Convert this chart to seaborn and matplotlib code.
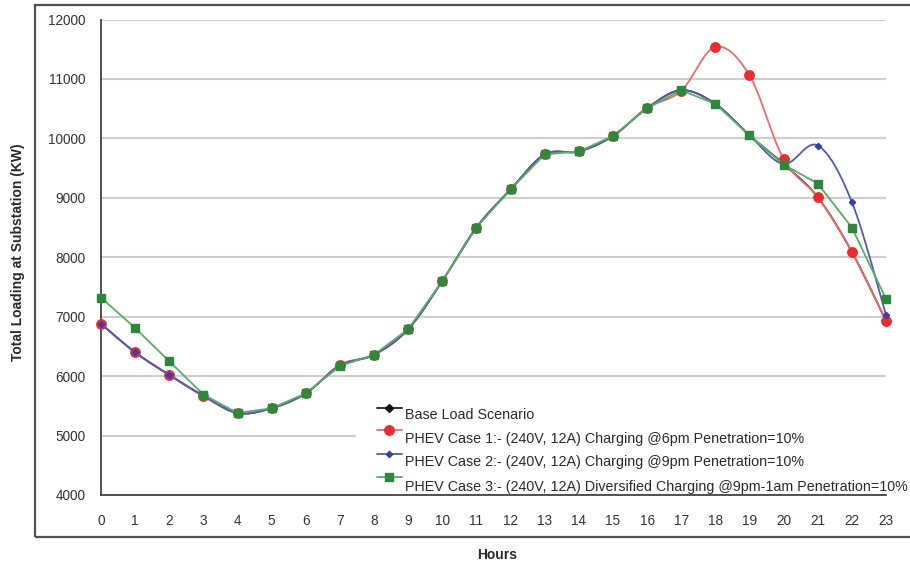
import numpy as np
import pandas as pd
import seaborn as sns
import matplotlib.pyplot as plt
from matplotlib.lines import Line2D
from matplotlib.patches import Rectangle

# Hourly substation loading (kW)
hours = list(range(24))
base_load = [6880, 6400, 6020, 5670, 5380, 5460, 5710, 6180, 6360, 6790, 7600, 8500,
             9140, 9730, 9780, 10040, 10510, 10810, 10580, 10050, 9570, 9010, 8090, 6930]
case1_6pm = [6880, 6400, 6020, 5660, 5380, 5460, 5710, 6190, 6360, 6790, 7600, 8500,
             9140, 9730, 9780, 10040, 10510, 10800, 11540, 11060, 9650, 9010, 8090, 6930]
case2_9pm = [6880, 6400, 6020, 5670, 5380, 5460, 5710, 6180, 6360, 6790, 7600, 8500,
             9140, 9730, 9780, 10040, 10510, 10810, 10580, 10050, 9570, 9880, 8930, 7030]
case3_div = [7320, 6810, 6250, 5690, 5380, 5460, 5710, 6170, 6360, 6790, 7600, 8500,
             9140, 9730, 9780, 10040, 10510, 10810, 10580, 10050, 9560, 9240, 8500, 7300]

labels = ["Base Load Scenario",
          "PHEV Case 1:- (240V, 12A) Charging @6pm Penetration=10%",
          "PHEV Case 2:- (240V, 12A) Charging @9pm Penetration=10%",
          "PHEV Case 3:- (240V, 12A) Diversified Charging @9pm-1am Penetration=10%"]
y_ticks = [4000, 5000, 6000, 7000, 8000, 9000, 10000, 11000, 12000]


def smooth(x, y, n=20):
    """Bezier smoothing through every point (spreadsheet-style smoothed line)."""
    x = np.asarray(x, float)
    y = np.asarray(y, float)
    px = np.concatenate([[x[0]], x, [x[-1]]])
    py = np.concatenate([[y[0]], y, [y[-1]]])
    xs, ys = [], []
    t = np.linspace(0, 1, n, endpoint=False)
    for i in range(len(x) - 1):
        p0 = np.array([x[i], y[i]])
        p3 = np.array([x[i + 1], y[i + 1]])
        p1 = p0 + (np.array([px[i + 2], py[i + 2]]) - np.array([px[i], py[i]])) / 6
        p2 = p3 - (np.array([px[i + 3], py[i + 3]]) - np.array([px[i + 1], py[i + 1]])) / 6
        b = ((1 - t) ** 3)[:, None] * p0 + (3 * (1 - t) ** 2 * t)[:, None] * p1 \
            + (3 * (1 - t) * t ** 2)[:, None] * p2 + (t ** 3)[:, None] * p3
        xs.append(b[:, 0])
        ys.append(b[:, 1])
    xs.append([x[-1]])
    ys.append([y[-1]])
    return np.concatenate(xs), np.concatenate(ys)


sns.set_style("white")
plt.rcParams["font.family"] = ["Liberation Sans", "DejaVu Sans"]

fig = plt.figure(figsize=(9.1, 5.63), dpi=100)
W, H = 910, 563
ax = fig.add_axes([101 / W, 1 - 495 / H, (886 - 101) / W, (495 - 19.5) / H])

# outer frame (its right side runs past the canvas edge)
fig.patches.append(Rectangle((35 / W, 1 - 537 / H), (930 - 35) / W, (537 - 5) / H,
                             transform=fig.transFigure, fill=False,
                             edgecolor="#505050", linewidth=1.6, zorder=0))

styles = [
    dict(data=base_load, color="#111111", lcolor="#222222", marker="D", ms=4.5,
         smooth=True, z=2),
    dict(data=case1_6pm, color="#ee2a2a", lcolor="#f06a6a", marker="o", ms=6.8,
         smooth=True, z=3),
    dict(data=case2_9pm, color="#3a3ea8", lcolor="#5558b8", marker="D", ms=3.2,
         smooth=True, z=4),
    dict(data=case3_div, color="#2a8a3a", lcolor="#55b060", marker="s", ms=5.8,
         smooth=False, z=5),
]

for s in styles:
    if s["smooth"]:
        sx, sy = smooth(hours, s["data"])
    else:
        sx, sy = np.asarray(hours, float), np.asarray(s["data"], float)
    sns.lineplot(x=sx, y=sy, ax=ax, color=s["lcolor"], linewidth=1.3,
                 estimator=None, sort=False, zorder=s["z"])
    ax.plot(hours, s["data"], linestyle="none", marker=s["marker"],
            markersize=s["ms"], color=s["color"], markeredgecolor=s["color"],
            zorder=s["z"] + 0.5, clip_on=False)

ax.set_xlim(0, 23)
ax.set_ylim(4000, 12000)
ax.set_xticks(hours)
ax.set_yticks(y_ticks)
ax.yaxis.grid(True, color="#cfcfcf", linewidth=1.5)
ax.set_axisbelow(True)
for side in ["top", "right"]:
    ax.spines[side].set_visible(False)
for side in ["left", "bottom"]:
    ax.spines[side].set_color("#444444")
    ax.spines[side].set_linewidth(1.3)
ax.tick_params(axis="both", direction="out", length=5, width=1.2, color="#444444",
               labelsize=9.8, labelcolor="#333333")
ax.tick_params(axis="x", pad=9)
ax.tick_params(axis="y", pad=6)
ax.set_xlabel("")
ax.set_ylabel("")

fig.text(18 / W, 1 - 252 / H, "Total Loading at Substation (KW)", rotation=90,
         ha="center", va="center", fontsize=10, fontweight="bold", color="#2a2a2a")
fig.text(497 / W, 1 - 555 / H, "Hours", ha="center", va="center",
         fontsize=10, fontweight="bold", color="#2a2a2a")

# legend block with white backing (kept clear of the x axis line)
fig.patches.append(Rectangle((356 / W, 1 - 492 / H), (906 - 356) / W, (492 - 397) / H,
                             transform=fig.transFigure, facecolor="white",
                             edgecolor="none", zorder=6))
handle_y = [408, 430, 454, 477]
text_y = [415, 439, 462, 487]
for s, lab, hy, ty in zip(styles, labels, handle_y, text_y):
    fig.lines.append(Line2D([377 / W, 402 / W], [1 - hy / H, 1 - hy / H],
                            transform=fig.transFigure, color=s["lcolor"],
                            linewidth=1.3, zorder=7))
    fig.lines.append(Line2D([389 / W], [1 - hy / H], transform=fig.transFigure,
                            linestyle="none", marker=s["marker"],
                            markersize=s["ms"], color=s["color"], zorder=8))
    fig.text(405 / W, 1 - ty / H, lab, ha="left", va="center", fontsize=10.3,
             color="#2a2a2a", zorder=9)

fig.savefig("out.png", dpi=100)
